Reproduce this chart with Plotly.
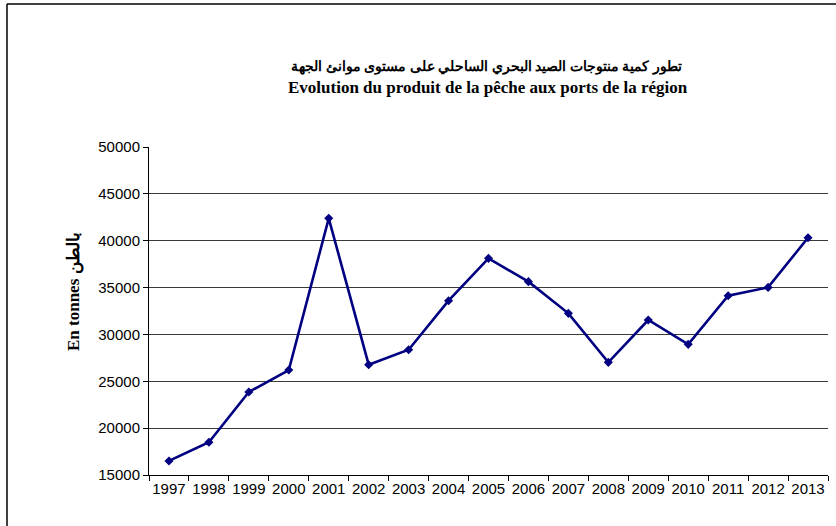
import plotly.graph_objects as go

years = ["1997", "1998", "1999", "2000", "2001", "2002", "2003", "2004", "2005",
         "2006", "2007", "2008", "2009", "2010", "2011", "2012", "2013"]
tonnes = [16500, 18500, 23860, 26200, 42390, 26770, 28370, 33600, 38120,
          35630, 32250, 27020, 31540, 28940, 34130, 35020, 40320]
y_ticks = [15000, 20000, 25000, 30000, 35000, 40000, 45000, 50000]
y_ticktext = [str(v) for v in y_ticks]

title_ar = "تطور كمية منتوجات الصيد البحري الساحلي على مستوى موانئ الجهة"
title_fr = "Evolution du produit de la pêche aux ports de la région"
ylabel = "En tonnes بالطن"

W, H = 836, 526
L, R, T, B = 149, 8, 147, 51
pw, ph = W - L - R, H - T - B

def px(x):
    return (x - L) / pw

def py(y):
    return (H - B - y) / ph

fig = go.Figure()
fig.add_trace(go.Scatter(
    x=years, y=tonnes, mode="lines+markers",
    line=dict(color="#000080", width=2.6),
    marker=dict(symbol="diamond", size=7, color="#000080"),
    showlegend=False, hoverinfo="x+y",
))

fig.update_layout(
    width=W, height=H,
    margin=dict(l=L, r=R, t=T, b=B, autoexpand=False),
    paper_bgcolor="white", plot_bgcolor="white",
    font=dict(family="Liberation Sans, Arial, sans-serif", size=15, color="black"),
    xaxis=dict(type="category", tickson="boundaries", ticks="outside", ticklen=5,
               range=[-0.5, len(years) - 0.5],
               tickcolor="black", showline=True, linecolor="black", linewidth=1,
               showgrid=False, zeroline=False, tickangle=0, automargin=False,
               tickfont=dict(size=15)),
    yaxis=dict(range=[15000, 50000], tickvals=y_ticks, ticktext=y_ticktext,
               ticks="outside", ticklen=5, automargin=False,
               tickcolor="black", showline=True, linecolor="black", linewidth=1,
               showgrid=True, gridcolor="#3a3a3a", gridwidth=1, zeroline=False,
               tickfont=dict(size=15)),
    shapes=[
        dict(type="line", xref="paper", yref="paper", x0=px(7), x1=px(W + 5),
             y0=py(4), y1=py(4), line=dict(color="black", width=1.5)),
        dict(type="line", xref="paper", yref="paper", x0=px(7), x1=px(7),
             y0=py(4), y1=py(H + 5), line=dict(color="black", width=1.5)),
    ],
    annotations=[
        dict(text="<b>" + title_ar + "</b>", xref="paper", yref="paper",
             x=px(486), y=py(67), showarrow=False, xanchor="center", yanchor="middle",
             font=dict(family="Liberation Serif, DejaVu Serif, serif", size=14)),
        dict(text="<b>" + title_fr + "</b>", xref="paper", yref="paper",
             x=px(488), y=py(88), showarrow=False, xanchor="center", yanchor="middle",
             font=dict(family="Liberation Serif, Times New Roman, serif", size=17)),
        dict(text="<b>" + ylabel + "</b>", xref="paper", yref="paper",
             x=px(74), y=py(292), showarrow=False, textangle=-90,
             xanchor="center", yanchor="middle",
             font=dict(family="Liberation Serif, Times New Roman, serif", size=17)),
    ],
)

fig.write_html("out.html", config={"displayModeBar": False},
               post_script="document.body.style.margin='0';")
